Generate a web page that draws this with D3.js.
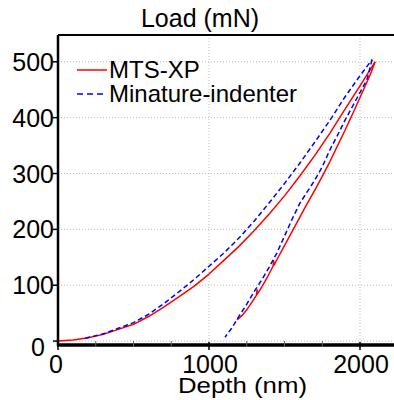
<!DOCTYPE html>
<html>
<head>
<meta charset="utf-8">
<script src="https://cdn.jsdelivr.net/npm/d3@7"></script>
<style>
  html, body { margin: 0; padding: 0; background: #fff; }
  svg { display: block; font-family: "Liberation Sans", Arial, sans-serif; }
</style>
</head>
<body>
<svg id="chart" width="394" height="400"></svg>
<script>
// Dades llegides de la figura (profunditat en nm, carrega en mN)
const seriesNames = ['MTS-XP', 'Minature-indenter'];

const mtsLoading = [
  [0, 0], [100, 2], [200, 6], [300, 12], [400, 21], [500, 30], [600, 44],
  [700, 61], [800, 79], [900, 98], [1000, 120], [1100, 145], [1200, 170],
  [1300, 198], [1400, 228], [1500, 260], [1600, 295], [1700, 332],
  [1800, 372], [1900, 415], [2000, 457], [2100, 500]
];
const mtsUnloading = [
  [2100, 500], [2075, 482], [2050, 466], [2000, 436], [1950, 406],
  [1900, 377], [1850, 349], [1800, 321], [1750, 295], [1700, 270],
  [1650, 246], [1600, 221], [1550, 196], [1500, 171], [1460, 151],
  [1430, 136], [1428, 144], [1424, 134], [1384, 113], [1350, 97],
  [1320, 84], [1318, 92], [1314, 82], [1280, 68], [1250, 56],
  [1220, 46], [1185, 38]
];
const miniLoading = [
  [180, 5], [300, 13], [400, 23], [500, 33], [600, 48], [700, 67],
  [800, 88], [900, 110], [1000, 134], [1100, 158], [1200, 185],
  [1300, 215], [1400, 248], [1500, 282], [1600, 318], [1700, 356],
  [1800, 395], [1900, 437], [2000, 475], [2080, 504]
];
const miniUnloading = [
  [2080, 504], [2046, 468], [2000, 445], [1950, 420], [1900, 395],
  [1850, 368], [1800, 342], [1750, 312], [1700, 288], [1650, 267],
  [1600, 246], [1550, 218], [1500, 188], [1450, 158], [1400, 133],
  [1350, 110], [1300, 89], [1250, 66], [1200, 45], [1150, 23], [1106, 7]
];

const xMajorTicks = [0, 1000, 2000];
const xMinorTicks = [250, 500, 750, 1250, 1500, 1750, 2250];
const yTicks = [0, 100, 200, 300, 400, 500];

const svg = d3.select('#chart');

const plotLeft = 58, plotTop = 35, plotBottom = 345;

const x = d3.scaleLinear().domain([0, 2250]).range([plotLeft, plotLeft + 0.151 * 2250]);
const y = d3.scaleLinear().domain([-7, 548]).range([plotBottom, plotTop]);

// Quadricula puntejada
const grid = svg.append('g');
grid.selectAll('.hgrid')
  .data(yTicks)
  .enter().append('line')
  .attr('x1', plotLeft).attr('x2', 394)
  .attr('y1', d => y(d)).attr('y2', d => y(d))
  .attr('stroke', '#bdbdbd')
  .attr('stroke-width', 1)
  .attr('stroke-dasharray', '1,2');
grid.selectAll('.vgrid')
  .data(xMajorTicks.filter(d => d > 0))
  .enter().append('line')
  .attr('x1', d => x(d)).attr('x2', d => x(d))
  .attr('y1', plotTop).attr('y2', plotBottom)
  .attr('stroke', '#bdbdbd')
  .attr('stroke-width', 1)
  .attr('stroke-dasharray', '1,2');

// Corbes
const line = d3.line()
  .x(d => x(d[0]))
  .y(d => y(d[1]));

const curves = [
  { data: mtsLoading, color: '#ff0000', dash: null },
  { data: mtsUnloading, color: '#ff0000', dash: null },
  { data: miniLoading, color: '#0000ff', dash: '5,3' },
  { data: miniUnloading, color: '#0000ff', dash: '5,3' }
];

curves.forEach(c => {
  svg.append('path')
    .datum(c.data)
    .attr('fill', 'none')
    .attr('stroke', c.color)
    .attr('stroke-width', 1.5)
    .attr('stroke-dasharray', c.dash)
    .attr('stroke-linejoin', 'round')
    .attr('d', line);
});

// Eixos
svg.append('line')
  .attr('x1', plotLeft).attr('x2', 394)
  .attr('y1', plotTop).attr('y2', plotTop)
  .attr('stroke', '#000').attr('stroke-width', 2);

svg.append('line')
  .attr('x1', plotLeft).attr('x2', plotLeft)
  .attr('y1', plotTop).attr('y2', plotBottom + 1)
  .attr('stroke', '#000').attr('stroke-width', 2.5);

svg.append('line')
  .attr('x1', plotLeft - 1).attr('x2', 394)
  .attr('y1', plotBottom).attr('y2', plotBottom)
  .attr('stroke', '#000').attr('stroke-width', 3.5);

// Marques de l'eix X
svg.selectAll('.xmaj')
  .data(xMajorTicks)
  .enter().append('line')
  .attr('x1', d => x(d)).attr('x2', d => x(d))
  .attr('y1', plotBottom - 3).attr('y2', plotBottom + 5)
  .attr('stroke', '#000').attr('stroke-width', 1.5);
svg.selectAll('.xmin')
  .data(xMinorTicks)
  .enter().append('line')
  .attr('x1', d => x(d)).attr('x2', d => x(d))
  .attr('y1', plotBottom - 4).attr('y2', plotBottom + 2)
  .attr('stroke', '#666').attr('stroke-width', 1);

svg.selectAll('.xlab')
  .data(xMajorTicks)
  .enter().append('text')
  .attr('x', d => x(d) + (d === 0 ? -2 : 1))
  .attr('y', 373)
  .attr('text-anchor', 'middle')
  .attr('font-size', 25)
  .attr('fill', '#000')
  .text(d => d);

// Marques de l'eix Y
svg.selectAll('.ytick')
  .data(yTicks)
  .enter().append('line')
  .attr('x1', plotLeft - 5).attr('x2', plotLeft)
  .attr('y1', d => y(d)).attr('y2', d => y(d))
  .attr('stroke', '#000').attr('stroke-width', 1.5);

svg.selectAll('.ylab')
  .data(yTicks)
  .enter().append('text')
  .attr('x', d => d === 0 ? 45 : 54)
  .attr('y', d => y(d) + (d === 0 ? 6 : 0))
  .attr('dy', '0.36em')
  .attr('text-anchor', 'end')
  .attr('font-size', 25)
  .attr('fill', '#000')
  .text(d => d);

// Titols dels eixos
svg.append('text')
  .attr('x', 200).attr('y', 27)
  .attr('text-anchor', 'middle')
  .attr('font-size', 25)
  .text('Load (mN)');

svg.append('text')
  .attr('x', 178).attr('y', 393)
  .attr('font-size', 22)
  .attr('textLength', 129)
  .attr('lengthAdjust', 'spacingAndGlyphs')
  .text('Depth (nm)');

// Llegenda
const legend = svg.append('g');
const legendRows = [
  { name: seriesNames[0], color: '#ff0000', dash: null, y: 70 },
  { name: seriesNames[1], color: '#0000ff', dash: '6,4', y: 94 }
];
legendRows.forEach(r => {
  legend.append('line')
    .attr('x1', 77).attr('x2', 107)
    .attr('y1', r.y).attr('y2', r.y)
    .attr('stroke', r.color)
    .attr('stroke-width', 1.5)
    .attr('stroke-dasharray', r.dash);
  legend.append('text')
    .attr('x', 109).attr('y', r.y + 8)
    .attr('font-size', 24)
    .text(r.name);
});
</script>
</body>
</html>
